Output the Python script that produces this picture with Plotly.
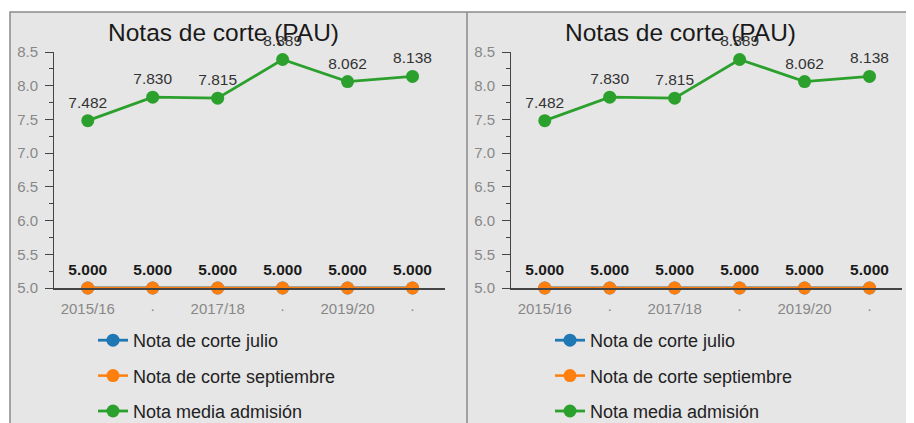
import plotly.graph_objects as go

W, H = 914, 423

cursos = ["2015/16", "2016/17", "2017/18", "2018/19", "2019/20", "2020/21"]
etiquetas_x = ["2015/16", "·", "2017/18", "·", "2019/20", "·"]

nota_julio = [5.000, 5.000, 5.000, 5.000, 5.000, 5.000]
nota_septiembre = [5.000, 5.000, 5.000, 5.000, 5.000, 5.000]
nota_media = [7.482, 7.830, 7.815, 8.389, 8.062, 8.138]

series = [
    ("Nota de corte julio", nota_julio, "#1f77b4", False),
    ("Nota de corte septiembre", nota_septiembre, "#ff7f0e", True),
    ("Nota media admisión", nota_media, "#2ca02c", True),
]

FONT = "Liberation Sans, Arial, sans-serif"
BG = "#e6e6e6"

# measured mapping from figure space to the photographed page
DX, DY, HEFF = 8, 17, 406


def px_x(p):
    return (p - DX) / W


def px_y(p):
    return 1 - (p - DY) / HEFF


fig = go.Figure()

# two identical panels, the second shifted 457 px to the right
offset = 457
for k in range(2):
    sfx = "" if k == 0 else "2"
    xa, ya = "x" + sfx, "y" + sfx
    legend_name = "legend" + sfx
    for i, (name, vals, color, labels) in enumerate(series):
        bold = "septiembre" in name
        fig.add_trace(go.Scatter(
            x=cursos, y=vals, name=name,
            xaxis=xa, yaxis=ya,
            mode="lines+markers+text" if labels else "lines+markers",
            text=[f"{v:.3f}" for v in vals] if labels else None,
            textposition="top center",
            textfont=dict(size=15.5, family=FONT,
                          color="#1a1a1a" if bold else "#333",
                          weight="bold" if bold else "normal"),
            line=dict(color=color, width=2.8 if not bold else 2.5),
            marker=dict(color=color, size=13),
            cliponaxis=False,
            legend=legend_name,
            legendgroup=f"g{i}",
        ))

    x0 = 54 + k * offset
    x1 = 445 + k * offset
    fig.update_layout(**{
        ("xaxis" + sfx): dict(
            domain=[px_x(x0), px_x(x1)], anchor=ya,
            type="category", categoryorder="array", categoryarray=cursos,
            tickvals=cursos, ticktext=etiquetas_x,
            range=[-0.52, 5.5], showgrid=False, zeroline=False,
            showline=True, linecolor="#444", linewidth=2, ticks="",
            ticklabelstandoff=6,
            tickfont=dict(size=15, color="#888", family=FONT),
        ),
        ("yaxis" + sfx): dict(
            domain=[px_y(288), px_y(52)], anchor=xa,
            range=[5, 8.5], dtick=0.5, tickformat=".1f",
            showgrid=False, zeroline=False,
            showline=True, linecolor="#444", linewidth=1,
            ticks="outside", ticklen=8, tickcolor="#444",
            minor=dict(ticks="outside", ticklen=4, dtick=0.25, tickcolor="#444"),
            ticklabelstandoff=4,
            tickfont=dict(size=15, color="#888", family=FONT),
        ),
        legend_name: dict(
            x=px_x(93 + k * offset), y=px_y(322), xanchor="left", yanchor="top",
            orientation="v", bgcolor="rgba(0,0,0,0)",
            font=dict(size=18, color="#222", family=FONT),
            tracegroupgap=9, itemclick=False,
        ),
    })

    fig.add_annotation(
        text="Notas de corte (PAU)", xref="paper", yref="paper",
        x=px_x(223 + k * offset), y=px_y(32), showarrow=False,
        xanchor="center", yanchor="middle",
        font=dict(size=24.5, color="#1a1a1a", family=FONT),
    )

# background panel, border and divider
fig.add_shape(type="rect", xref="paper", yref="paper",
              x0=px_x(10), x1=1.01, y0=-0.03, y1=px_y(12),
              fillcolor=BG, line=dict(color="#8a8a8a", width=1.5), layer="below")
fig.add_shape(type="line", xref="paper", yref="paper",
              x0=px_x(467), x1=px_x(467), y0=-0.03, y1=px_y(12),
              line=dict(color="#8a8a8a", width=1.5), layer="below")

fig.update_layout(
    width=W, height=H,
    margin=dict(l=0, r=0, t=0, b=0),
    paper_bgcolor="white", plot_bgcolor="rgba(0,0,0,0)",
    font=dict(family=FONT),
)

fig.write_html("out.html")
